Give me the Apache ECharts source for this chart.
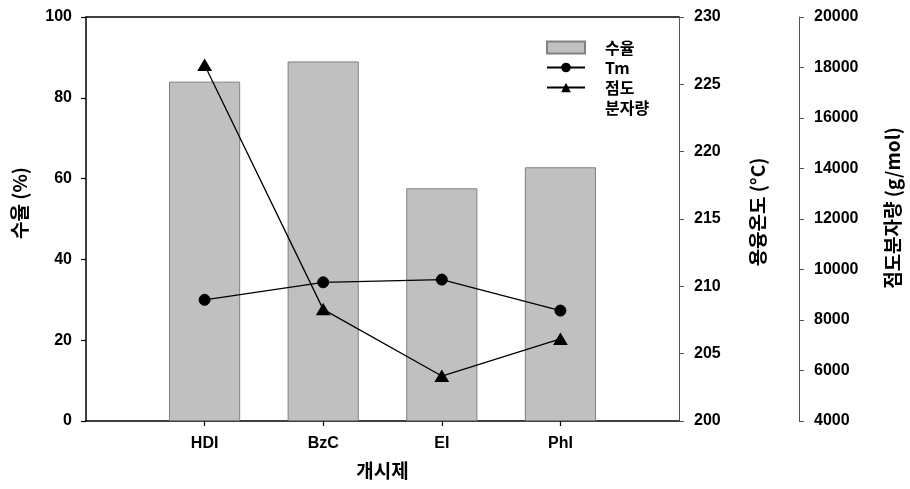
<!DOCTYPE html>
<html>
<head>
<meta charset="utf-8">
<script src="https://cdn.jsdelivr.net/npm/echarts@6/dist/echarts.min.js"></script>
<style>
  html, body { margin: 0; padding: 0; background: #fff; }
  #chart { width: 910px; height: 489px; }
</style>
</head>
<body>
<div id="chart"></div>
<script>
// Initiators on the x axis
var categories = ['HDI', 'BzC', 'EI', 'PhI'];
// Yield (%) - bars, left axis
var yieldPct = [84.0, 89.0, 57.6, 62.8];
// Melting temperature Tm (°C) - circles, first right axis
var meltTemp = [209.0, 210.3, 210.5, 208.2];
// Viscosity-average molecular weight (g/mol) - triangles, second right axis
var viscMw = [18100, 8420, 5780, 7250];

var numFont = '"Liberation Sans", Arial, sans-serif';
var korFont = '"Noto Sans CJK KR", "Liberation Sans", sans-serif';

// pad the axis with empty slots so the four groups sit at 1..4 of a 0..5 range
var axisCats = [''].concat(categories, ['']);
function pad(arr) { return [null].concat(arr, [null]); }

var chart = echarts.init(document.getElementById('chart'), null, { renderer: 'canvas' });

var tickLabel = {
  color: '#000', fontFamily: numFont, fontWeight: 'bold', fontSize: 16,
  formatter: function (v) { return String(v); }
};
function titleStyle(shiftUp) {
  return { color: '#000', fontFamily: korFont, fontWeight: 'bold', fontSize: 19, padding: [0, 0, 0, shiftUp * 2] };
}
var legendText = {
  color: '#000', fontFamily: korFont, fontWeight: 'bold', fontSize: 16, lineHeight: 20,
  padding: [0, 0, 0, 15]
};

chart.setOption({
  animation: false,
  backgroundColor: '#fff',
  grid: { left: 86, right: 222, top: 17, bottom: 68, containLabel: false },
  legend: [
    {
      orient: 'vertical',
      left: 546,
      top: 37.5,
      padding: 0,
      itemWidth: 38,
      itemHeight: 12,
      itemGap: 0,
      selectedMode: false,
      textStyle: legendText,
      data: [
        { name: '수율', icon: 'rect' },
        { name: 'Tm' }
      ]
    },
    {
      // two-line entry: a leading blank line keeps the first line level with the icon
      orient: 'vertical',
      left: 546,
      top: 57.5,
      padding: 0,
      itemWidth: 38,
      itemHeight: 12,
      selectedMode: false,
      textStyle: legendText,
      formatter: function (name) { return '\n' + name; },
      data: [{ name: '점도\n분자량' }]
    }
  ],
  xAxis: [
    {
      type: 'category',
      data: axisCats,
      boundaryGap: false,
      position: 'bottom',
      name: '개시제',
      nameLocation: 'middle',
      nameGap: 40,
      nameTextStyle: titleStyle(0),
      axisLine: { lineStyle: { color: '#000', width: 1.5 } },
      axisTick: {
        length: 5,
        lineStyle: { color: '#000', width: 1.2 },
        interval: function (idx, val) { return val !== ''; }
      },
      axisLabel: { interval: 0, margin: 15, color: '#000', fontFamily: numFont, fontWeight: 'bold', fontSize: 16 },
      splitLine: { show: false }
    },
    {
      type: 'category',
      data: axisCats,
      boundaryGap: false,
      position: 'top',
      axisLine: { lineStyle: { color: '#000', width: 1.5 } },
      axisTick: { show: false },
      axisLabel: { show: false },
      splitLine: { show: false }
    }
  ],
  yAxis: [
    {
      type: 'value',
      position: 'left',
      min: 0, max: 100, interval: 20,
      name: '수율 (%)',
      nameLocation: 'middle',
      nameRotate: 90,
      nameGap: 57,
      nameTextStyle: titleStyle(16),
      axisLine: { show: true, lineStyle: { color: '#000', width: 1.5 } },
      axisTick: { show: true, length: 5, lineStyle: { color: '#000', width: 1.2 } },
      axisLabel: Object.assign({ margin: 14 }, tickLabel),
      splitLine: { show: false }
    },
    {
      type: 'value',
      position: 'right',
      min: 200, max: 230, interval: 5,
      name: '용융온도 (°C)',
      nameLocation: 'middle',
      nameRotate: 90,
      nameGap: 69,
      nameTextStyle: titleStyle(7),
      axisLine: { show: true, lineStyle: { color: '#555', width: 1 } },
      axisTick: { show: true, length: 5, lineStyle: { color: '#555', width: 1 } },
      axisLabel: Object.assign({ margin: 15 }, tickLabel),
      splitLine: { show: false }
    },
    {
      type: 'value',
      position: 'right',
      offset: 120,
      min: 4000, max: 20000, interval: 2000,
      name: '점도분자량 (g/mol)',
      nameLocation: 'middle',
      nameRotate: 90,
      nameGap: 84,
      nameTextStyle: titleStyle(11),
      axisLine: { show: true, lineStyle: { color: '#555', width: 1 } },
      axisTick: { show: true, length: 5, lineStyle: { color: '#555', width: 1 } },
      axisLabel: Object.assign({ margin: 15 }, tickLabel),
      splitLine: { show: false }
    }
  ],
  series: [
    {
      name: '수율',
      type: 'bar',
      xAxisIndex: 0,
      yAxisIndex: 0,
      data: pad(yieldPct),
      barWidth: '60%',
      itemStyle: { color: '#c0c0c0', borderColor: '#808080', borderWidth: 1 },
      z: 1
    },
    {
      name: 'Tm',
      type: 'line',
      xAxisIndex: 0,
      yAxisIndex: 1,
      data: pad(meltTemp),
      symbol: 'circle',
      symbolSize: 11,
      showAllSymbol: true,
      lineStyle: { color: '#000', width: 1.3 },
      itemStyle: { color: '#000', borderColor: '#000' },
      z: 3
    },
    {
      name: '점도\n분자량',
      type: 'line',
      xAxisIndex: 0,
      yAxisIndex: 2,
      data: pad(viscMw),
      symbol: 'triangle',
      symbolSize: [13, 11],
      showAllSymbol: true,
      lineStyle: { color: '#000', width: 1.3 },
      itemStyle: { color: '#000', borderColor: '#000' },
      z: 3
    }
  ]
});
</script>
</body>
</html>
